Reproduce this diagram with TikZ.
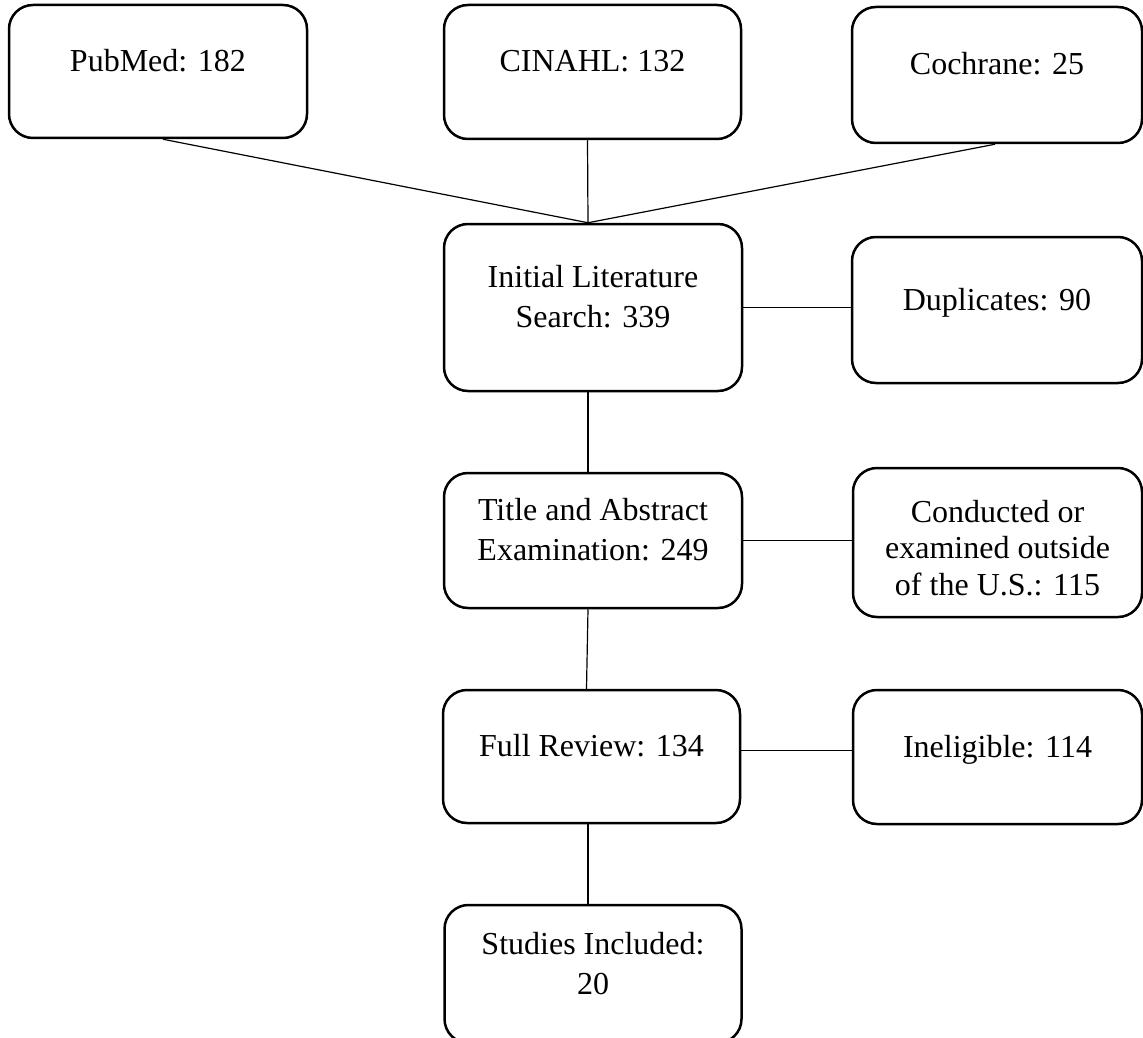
\documentclass[tikz,border=0pt]{standalone}
\usepackage{fontspec}
\setmainfont{Liberation Serif}
\usepackage{tikz}
\tikzset{
  % Common styles for the flow chart
  box/.style={draw, line width=2.5pt, rounded corners=24pt, align=center, inner sep=0pt,
    font=\fontsize{32}{40}\selectfont, text height=#1, text depth=0pt},
  box/.default=0pt,
  link/.style={draw, line width=1.2pt}
}

\begin{document}
\begin{tikzpicture}[x=1pt, y=-1pt]
        \useasboundingbox (0,0) rectangle (1143,1038);
        % Define nodes
        \node[box, minimum width=298pt, minimum height=133pt] (pubmed) at (158,71.5) {PubMed: 182};
        \node[box, minimum width=297pt, minimum height=134pt] (cinahl) at (592.5,72) {CINAHL: 132};
        \node[box, minimum width=290pt, minimum height=136pt] (cochrane) at (997,75) {Cochrane: 25};
        \node[box=40pt, minimum width=298pt, minimum height=167pt] (initial) at (593,307.5) {Initial Literature\\Search: 339};
        \node[box, minimum width=290pt, minimum height=146pt] (duplicates) at (997,310) {Duplicates: 90};
        \node[box=40pt, minimum width=298pt, minimum height=135pt] (title) at (593,540.5) {Title and Abstract\\Examination: 249};
        \node[box=105pt, font=\fontsize{32}{36.5}\selectfont, minimum width=289pt, minimum height=149pt] (conducted) at (997.5,542.5) {Conducted or\\examined outside\\of the U.S.: 115};
        \node[box, minimum width=297pt, minimum height=133pt] (full) at (591.5,756.5) {Full Review: 134};
        \node[box, minimum width=289pt, minimum height=134pt] (ineligible) at (997.5,757) {Ineligible: 114};
        \node[box=40pt, minimum width=297pt, minimum height=138pt] (studies) at (593,974) {Studies Included:\\20};
        \coordinate (join) at ([xshift=-5pt]initial.north);

        % Define connections
        \path [link] ([xshift=5pt]pubmed.south) -- (join);
        \path [link] ([xshift=-5pt]cinahl.south) -- (join);
        \path [link] ([xshift=-2pt]cochrane.south) -- (join);
        \path [link] (initial.east) -- (initial.east -| duplicates.west);
        \path [link] (title.east) -- (title.east -| conducted.west);
        \path [link] ([yshift=6pt]full.east) -- ([yshift=6pt]full.east -| ineligible.west);
        \path [link] ([xshift=-5pt]initial.south) -- ([xshift=-5pt]title.north);
        \path [link] ([xshift=-5pt]title.south) -- ([xshift=-5pt]full.north);
        \path [link] ([xshift=-3.5pt]full.south) -- ([xshift=-5pt]studies.north);
    \end{tikzpicture}
\end{document}
